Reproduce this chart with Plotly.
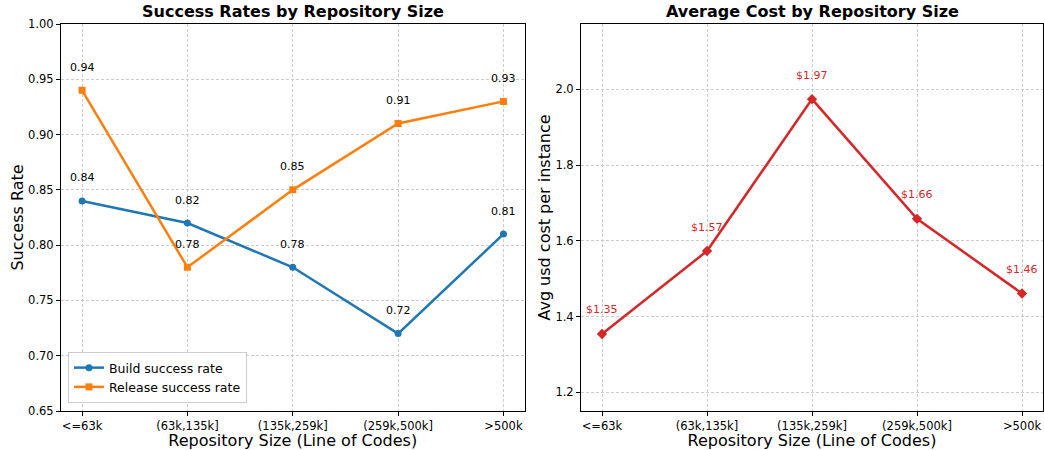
import plotly.graph_objects as go

categories = ["<=63k", "(63k,135k]", "(135k,259k]", "(259k,500k]", ">500k"]
build_rate = [0.84, 0.82, 0.78, 0.72, 0.81]
release_rate = [0.94, 0.78, 0.85, 0.91, 0.93]
avg_cost = [1.354, 1.573, 1.974, 1.658, 1.461]

BLUE = "#1f77b4"
ORANGE = "#ff7f0e"
RED = "#d62728"
FONT = "DejaVu Sans"

W, H = 1044, 450

def px_x(p):
    return p / W

def px_y(p):
    return 1 - p / H

L1, R1 = px_x(61), px_x(524.5)
L2, R2 = px_x(581), px_x(1043)
B, T = px_y(411), px_y(24)

fig = go.Figure()
xi = list(range(len(categories)))

fig.add_trace(go.Scatter(x=xi, y=build_rate, mode="lines+markers", name="Build success rate",
                         line=dict(color=BLUE, width=2.5), marker=dict(symbol="circle", size=7, color=BLUE),
                         xaxis="x", yaxis="y"))
fig.add_trace(go.Scatter(x=xi, y=release_rate, mode="lines+markers", name="Release success rate",
                         line=dict(color=ORANGE, width=2.5), marker=dict(symbol="square", size=7, color=ORANGE),
                         xaxis="x", yaxis="y"))
fig.add_trace(go.Scatter(x=xi, y=avg_cost, mode="lines+markers", name="Avg cost", showlegend=False,
                         line=dict(color=RED, width=2.5), marker=dict(symbol="diamond", size=8, color=RED),
                         xaxis="x2", yaxis="y2"))

annotations = []
for i, v in enumerate(build_rate):
    annotations.append(dict(x=i, y=v, xref="x", yref="y", text=f"{v:.2f}", showarrow=False,
                            yshift=23, font=dict(size=11, color="black", family=FONT)))
for i, v in enumerate(release_rate):
    annotations.append(dict(x=i, y=v, xref="x", yref="y", text=f"{v:.2f}", showarrow=False,
                            yshift=23, font=dict(size=11, color="black", family=FONT)))
for i, v in enumerate(avg_cost):
    annotations.append(dict(x=i, y=v, xref="x2", yref="y2", text=f"${v:.2f}", showarrow=False,
                            yshift=24, font=dict(size=11, color=RED, family=FONT)))

annotations.append(dict(x=(L1 + R1) / 2, y=T, xref="paper", yref="paper", xanchor="center", yanchor="bottom",
                        yshift=1, text="<b>Success Rates by Repository Size</b>", showarrow=False,
                        font=dict(size=16, color="black", family=FONT)))
annotations.append(dict(x=(L2 + R2) / 2, y=T, xref="paper", yref="paper", xanchor="center", yanchor="bottom",
                        yshift=1, text="<b>Average Cost by Repository Size</b>", showarrow=False,
                        font=dict(size=16, color="black", family=FONT)))

axis_common = dict(showline=True, linecolor="black", linewidth=1, mirror=True, ticks="outside",
                   ticklen=4, tickcolor="black", showgrid=True, gridcolor="#cccccc", griddash="3px,2px",
                   gridwidth=1, zeroline=False, automargin=False,
                   tickfont=dict(size=11.5, color="black", family=FONT))

fig.update_layout(
    width=W, height=H, margin=dict(l=0, r=0, t=0, b=0, autoexpand=False),
    paper_bgcolor="white", plot_bgcolor="white",
    font=dict(family=FONT, color="black"),
    xaxis=dict(domain=[L1, R1], anchor="y", range=[-0.2, 4.2], tickvals=xi, ticktext=categories,
               title=dict(text="Repository Size (Line of Codes)", font=dict(size=16), standoff=2), **axis_common),
    yaxis=dict(domain=[B, T], anchor="x", range=[0.65, 1.0], dtick=0.05, tickformat=".2f",
               title=dict(text="Success Rate", font=dict(size=16), standoff=0), **axis_common),
    xaxis2=dict(domain=[L2, R2], anchor="y2", range=[-0.2, 4.2], tickvals=xi, ticktext=categories,
                title=dict(text="Repository Size (Line of Codes)", font=dict(size=16), standoff=2), **axis_common),
    yaxis2=dict(domain=[B, T], anchor="x2", range=[1.1506, 2.1724], dtick=0.2, tickformat=".1f",
                title=dict(text="Avg usd cost per instance", font=dict(size=16), standoff=0), **axis_common),
    legend=dict(x=L1 + 7 / W, y=B + 8 / H, xanchor="left", yanchor="bottom",
                bgcolor="rgba(255,255,255,0.85)", bordercolor="#cccccc", borderwidth=1,
                font=dict(size=12.5, color="black", family=FONT), tracegroupgap=0, itemwidth=30),
    annotations=annotations,
    showlegend=True,
)

fig.write_html("out.html", config={"displayModeBar": False},
               post_script="document.body.style.margin='0';")
